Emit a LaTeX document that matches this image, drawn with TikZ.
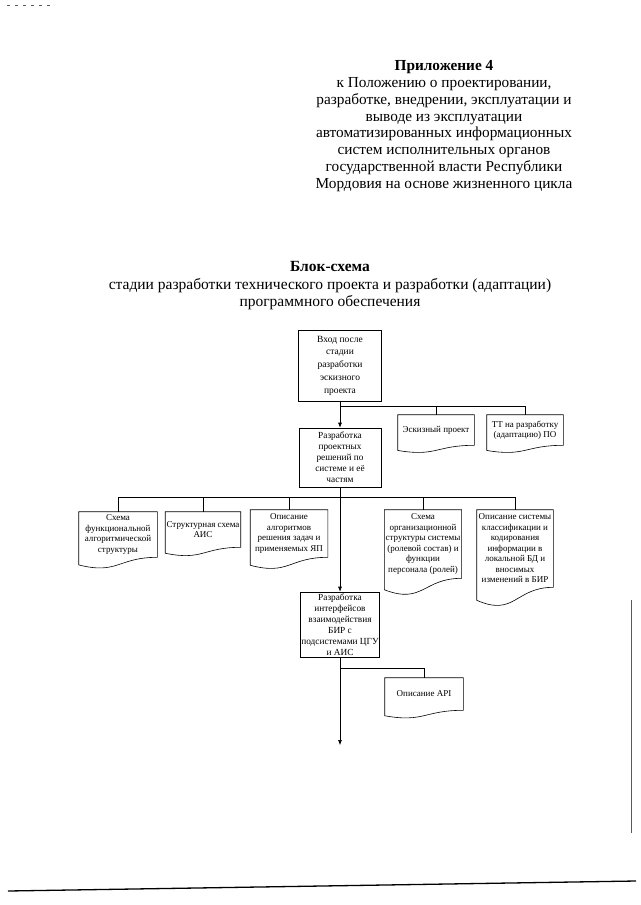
\documentclass[tikz,border=0pt]{standalone}
\usepackage{fontspec}
\setmainfont{Liberation Serif}
\usetikzlibrary{arrows.meta, positioning, calc}
\definecolor{scanGray}{HTML}{5A5A5A}

% outline of a document sheet with a wavy lower edge round a node
\newcommand{\docOutline}[1]{%
  \draw let \p1=($(#1.north)-(#1.south)$) in
    (#1.north west) -- (#1.north east) -- (#1.south east)
    .. controls (#1.south) and ($(#1.south)+(0pt,-0.384*\y1)$) ..
    ($(#1.south west)+(0pt,-0.167*\y1)$) -- cycle;}

\begin{document}
\begin{tikzpicture}[x=1pt, y=-1pt, line width=0.6pt,
    every node/.style={font=\fontsize{9}{10.5}\selectfont, align=center, inner sep=1pt},
    stagebox/.style={draw, font=\fontsize{9.3}{11}\selectfont},
    docbox/.style={},
    flow/.style={-{Latex[length=5pt,width=4pt]}}]
  \useasboundingbox (0,0) rectangle (640,905);

  % heading
  \node[font=\fontsize{15.3}{16.8}\selectfont] (annex) at (444,126)
    {\textbf{Приложение 4}\\к Положению о проектировании,\\разработке, внедрении, эксплуатации и\\выводе из эксплуатации\\автоматизированных информационных\\систем исполнительных органов\\государственной власти Республики\\Мордовия на основе жизненного цикла};
  \node[font=\fontsize{15.5}{17.5}\selectfont] (title) at (330,286)
    {\textbf{Блок-схема}\\стадии разработки технического проекта и разработки (адаптации)\\программного обеспечения};

  % stages
  \node[stagebox, minimum width=83pt, minimum height=71pt, font=\fontsize{9.5}{12.7}\selectfont] (entry) at (340,365.5)
    {Вход после\\стадии\\разработки\\эскизного\\проекта};
  \node[stagebox, minimum width=82pt, minimum height=59pt] (design) at (340,457.5)
    {Разработка\\проектных\\решений по\\системе и её\\частям};
  \node[stagebox, minimum width=77pt, minimum height=65pt] (iface) at (340,624.5)
    {Разработка\\интерфейсов\\взаимодействия\\БИР с\\подсистемами ЦГУ\\и АИС};

  % documents
  \node[docbox, minimum width=76pt, minimum height=30pt] (sketch) at (436,430) {Эскизный проект};
  \node[docbox, minimum width=76pt, minimum height=30pt] (tor) at (525,430) {ТТ на разработку\\(адаптацию) ПО};
  \node[docbox, minimum width=78pt, minimum height=45pt] (funcScheme) at (118,534.5)
    {Схема\\функциональной\\алгоритмической\\структуры};
  \node[docbox, minimum width=74pt, minimum height=35pt] (structScheme) at (203,529.5)
    {Структурная схема\\АИС};
  \node[docbox, minimum width=77pt, minimum height=47pt] (algoDesc) at (289,533.5)
    {Описание\\алгоритмов\\решения задач и\\применяемых ЯП};
  \node[docbox, minimum width=72pt, minimum height=68pt] (orgScheme) at (423,544)
    {Схема\\организационной\\структуры системы\\(ролевой состав) и\\функции\\персонала (ролей)};
  \node[docbox, minimum width=76pt, minimum height=77pt] (classDesc) at (515,548.5)
    {Описание системы\\классификации и\\кодирования\\информации в\\локальной БД и\\вносимых\\изменений в БИР};
  \node[docbox, minimum width=78pt, minimum height=32pt] (apiDesc) at (424,694) {Описание API};

  \foreach \d in {sketch,tor,funcScheme,structScheme,algoDesc,orgScheme,classDesc,apiDesc}
    {\docOutline{\d}}

  % connectors
  \coordinate (fork1) at (340,406);
  \coordinate (fork2) at (340,497);
  \coordinate (fork3) at (340,668);
  \coordinate (tail) at (340,745);

  \draw[flow] (entry) -- (design);
  \draw (fork1) -| (sketch.north);
  \draw (fork1) -| (tor.north);
  \draw[flow] (design) -- (iface);
  \draw (fork2) -| (funcScheme.north);
  \draw (fork2) -| (structScheme.north);
  \draw (fork2) -| (algoDesc.north);
  \draw (fork2) -| (orgScheme.north);
  \draw (fork2) -| (classDesc.north);
  \draw[flow] (iface) -- (tail);
  \draw (fork3) -| (apiDesc.north);

  % scan marks
  \draw[scanGray, line width=1pt, dash pattern=on 3pt off 5pt] (7,5) -- (50,5);
  \draw[scanGray, line width=1pt] (631,600) -- (631,833);
  \draw[line width=1.3pt] (8,891) -- (636,881);
\end{tikzpicture}
\end{document}
